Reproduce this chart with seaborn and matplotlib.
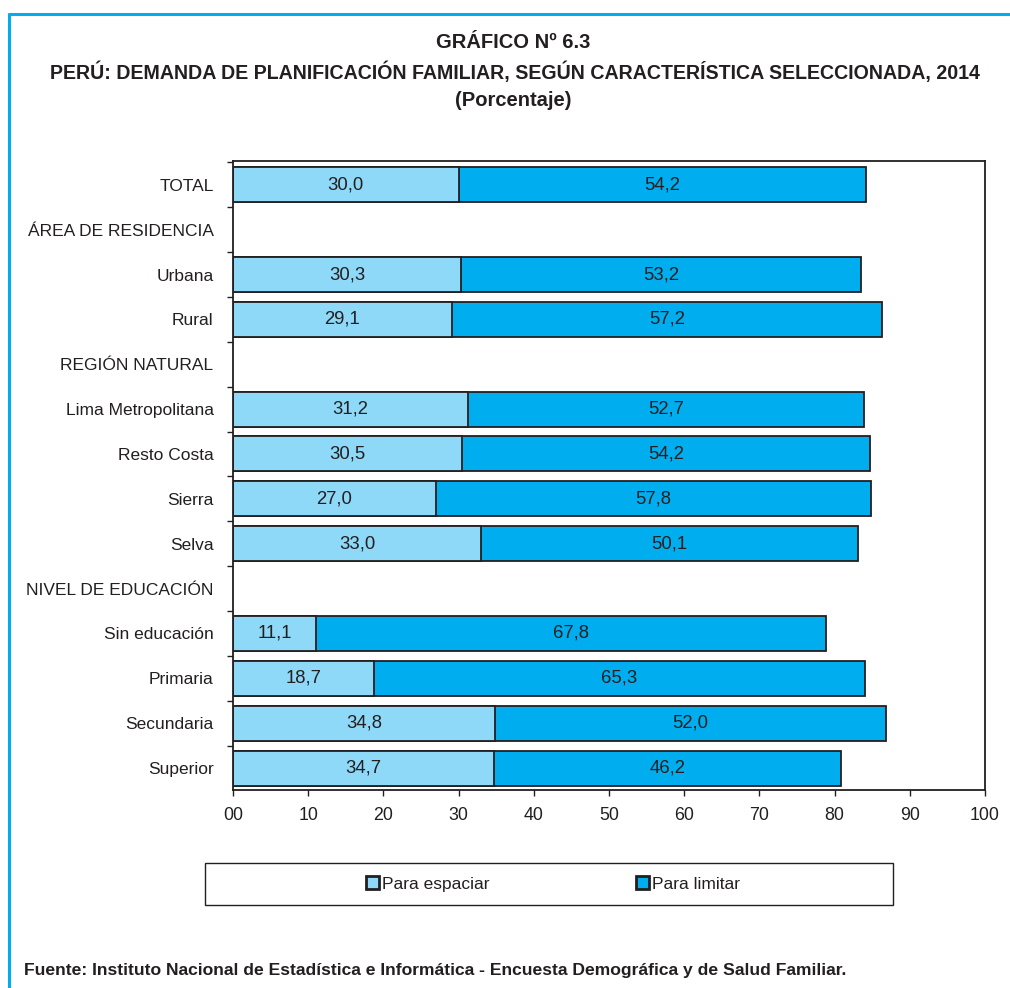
import numpy as np
import pandas as pd
import seaborn as sns
import matplotlib.pyplot as plt
from matplotlib.patches import Patch, Rectangle
from matplotlib.lines import Line2D
from matplotlib.ticker import FixedLocator

# Datos
categorias = ['TOTAL', 'ÁREA DE RESIDENCIA', 'Urbana', 'Rural', 'REGIÓN NATURAL',
              'Lima Metropolitana', 'Resto Costa', 'Sierra', 'Selva',
              'NIVEL DE EDUCACIÓN', 'Sin educación', 'Primaria', 'Secundaria', 'Superior']
para_espaciar = [30.0, np.nan, 30.3, 29.1, np.nan, 31.2, 30.5, 27.0, 33.0,
                 np.nan, 11.1, 18.7, 34.8, 34.7]
para_limitar = [54.2, np.nan, 53.2, 57.2, np.nan, 52.7, 54.2, 57.8, 50.1,
                np.nan, 67.8, 65.3, 52.0, 46.2]
ticks_x = [0, 10, 20, 30, 40, 50, 60, 70, 80, 90, 100]
etiquetas_x = ['00', '10', '20', '30', '40', '50', '60', '70', '80', '90', '100']

col_esp = '#8ED8F8'
col_lim = '#00AEEF'
col_borde = '#231F20'

df = pd.DataFrame({'cat': categorias, 'esp': para_espaciar, 'lim': para_limitar})
df['total'] = df['esp'] + df['lim']

sns.set_style('white')
plt.rcParams['font.family'] = ['Liberation Sans', 'DejaVu Sans']

fig = plt.figure(figsize=(10.1, 9.88), dpi=100)
ax = fig.add_axes([233 / 1010, 1 - 790 / 988, 752 / 1010, 629 / 988])

datos = df.dropna()
# barra total (parte oscura) y encima la parte clara
sns.barplot(data=datos, x='total', y='cat', order=categorias, color=col_lim,
            saturation=1, width=0.78, edgecolor=col_borde, linewidth=1.3, ax=ax)
sns.barplot(data=datos, x='esp', y='cat', order=categorias, color=col_esp,
            saturation=1, width=0.78, edgecolor=col_borde, linewidth=1.3, ax=ax)

# etiquetas de valores
for i, fila in df.iterrows():
    if pd.isna(fila['esp']):
        continue
    ax.text(fila['esp'] / 2, i, f"{fila['esp']:.1f}".replace('.', ','),
            ha='center', va='center', fontsize=13.3, color=col_borde)
    ax.text(fila['esp'] + fila['lim'] / 2, i, f"{fila['lim']:.1f}".replace('.', ','),
            ha='center', va='center', fontsize=13.3, color=col_borde)

ax.set_xlim(0, 100)
ax.set_ylim(13.49, -0.53)
ax.set_xlabel('')
ax.set_ylabel('')
ax.set_xticks(ticks_x)
ax.set_xticklabels(etiquetas_x, fontsize=12.8, color=col_borde)
ax.set_yticks(range(len(categorias)))
ax.set_yticklabels(categorias, fontsize=12.5, color=col_borde)
ax.yaxis.set_minor_locator(FixedLocator(np.arange(-0.5, len(categorias), 1)))
ax.tick_params(axis='y', which='major', length=0, pad=14)
ax.tick_params(axis='y', which='minor', left=True, length=4, width=1, color=col_borde)
ax.tick_params(axis='x', which='major', bottom=True, length=4, width=1,
               color=col_borde, pad=8)
for s in ax.spines.values():
    s.set_visible(True)
    s.set_color(col_borde)
    s.set_linewidth(1.3)

# Títulos
fig.text(0.508, 1 - 43 / 988, 'GRÁFICO Nº 6.3', ha='center', va='center',
         fontsize=14.5, fontweight='bold', color=col_borde)
fig.text(0.51, 1 - 72 / 988,
         'PERÚ: DEMANDA DE PLANIFICACIÓN FAMILIAR, SEGÚN CARACTERÍSTICA SELECCIONADA, 2014',
         ha='center', va='center', fontsize=14.1, fontweight='bold', color=col_borde)
fig.text(0.508, 1 - 100 / 988, '(Porcentaje)', ha='center', va='center',
         fontsize=14.5, fontweight='bold', color=col_borde)

# Leyenda
fig.add_artist(Rectangle((205 / 1010, 1 - 905 / 988), 688 / 1010, 42 / 988,
                         transform=fig.transFigure, facecolor='white',
                         edgecolor=col_borde, linewidth=1))
handles = [Patch(facecolor=col_esp, edgecolor=col_borde, linewidth=2, label='Para espaciar'),
           Patch(facecolor=col_lim, edgecolor=col_borde, linewidth=2, label='Para limitar')]
fig.legend(handles=handles, loc='center', bbox_to_anchor=(553 / 1010, 1 - 884 / 988),
           ncol=2, frameon=False, fontsize=12.5, handlelength=0.75, handleheight=0.75,
           handletextpad=0.2, columnspacing=8.4, labelcolor=col_borde)

# Fuente
fig.text(24 / 1010, 1 - 970 / 988,
         'Fuente: Instituto Nacional de Estadística e Informática - Encuesta Demográfica y de Salud Familiar.',
         ha='left', va='center', fontsize=12.6, fontweight='bold', color=col_borde)

# Marco azul
fig.add_artist(Line2D([9 / 1010, 1], [1 - 14 / 988, 1 - 14 / 988],
                      transform=fig.transFigure, color=col_lim, linewidth=2.2))
fig.add_artist(Line2D([9 / 1010, 9 / 1010], [1 - 14 / 988, 0],
                      transform=fig.transFigure, color=col_lim, linewidth=2.2))

fig.savefig('out.png', dpi=100)
